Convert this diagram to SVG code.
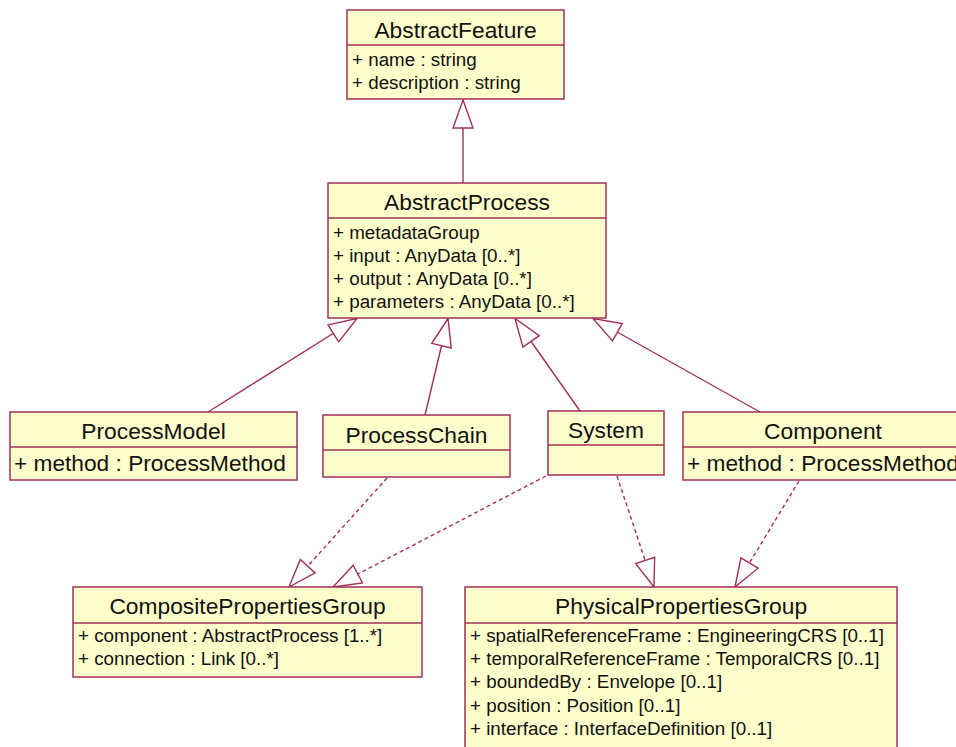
<svg xmlns="http://www.w3.org/2000/svg" width="956" height="747" viewBox="0 0 956 747">
<defs>
<style>
.box{fill:#FFFFCC;stroke:#A3305A;stroke-width:1.5}
.div{stroke:#A3305A;stroke-width:1.5}
.t{font-family:"Liberation Sans",Arial,sans-serif;font-size:22.8px;fill:#111;text-anchor:middle}
.a{font-family:"Liberation Sans",Arial,sans-serif;font-size:18.8px;fill:#111}
.ab{font-family:"Liberation Sans",Arial,sans-serif;font-size:22.7px;fill:#111}
.gen{stroke:#A3305A;stroke-width:1.4;fill:none;marker-end:url(#tri)}
.dep{stroke:#A3305A;stroke-width:1.4;fill:none;stroke-dasharray:4 3;marker-end:url(#tri)}
</style>
<marker id="tri" viewBox="-30 -12 32 24" refX="0" refY="0" markerWidth="32" markerHeight="24" markerUnits="userSpaceOnUse" orient="auto">
<path d="M0,0 L-28,-10 L-28,10 Z" fill="#FFFFFF" stroke="#A3305A" stroke-width="1.4"/>
</marker>
</defs>
<rect width="956" height="747" fill="#FFFFFF"/>
<g id="connectors">
<line class="gen" x1="463" y1="183" x2="463" y2="100"/>
<line class="gen" x1="208" y1="412" x2="357" y2="318.5"/>
<line class="gen" x1="425" y1="415" x2="448" y2="318.5"/>
<line class="gen" x1="580" y1="411" x2="515" y2="318.5"/>
<line class="gen" x1="760" y1="412" x2="593" y2="318.5"/>
<line class="dep" x1="387" y1="478" x2="289" y2="587"/>
<line class="dep" x1="546" y1="476" x2="333" y2="587"/>
<line class="dep" x1="617" y1="476" x2="654" y2="587"/>
<line class="dep" x1="799" y1="481" x2="735" y2="587"/>
</g>
<g id="AbstractFeature">
<rect class="box" x="347" y="10" width="217" height="89"/>
<line class="div" x1="347" y1="45" x2="564" y2="45"/>
<text class="t" x="455.5" y="38">AbstractFeature</text>
<text class="a" x="352" y="66">+ name : string</text>
<text class="a" x="352" y="89">+ description : string</text>
</g>
<g id="AbstractProcess">
<rect class="box" x="328" y="183" width="278" height="135"/>
<line class="div" x1="328" y1="218" x2="606" y2="218"/>
<text class="t" x="467" y="210">AbstractProcess</text>
<text class="a" x="333" y="239">+ metadataGroup</text>
<text class="a" x="333" y="262">+ input : AnyData [0..*]</text>
<text class="a" x="333" y="285">+ output : AnyData [0..*]</text>
<text class="a" x="333" y="308">+ parameters : AnyData [0..*]</text>
</g>
<g id="ProcessModel">
<rect class="box" x="10" y="412" width="287" height="68"/>
<line class="div" x1="10" y1="447" x2="297" y2="447"/>
<text class="t" x="153.5" y="439">ProcessModel</text>
<text class="ab" x="14" y="471">+ method : ProcessMethod</text>
</g>
<g id="ProcessChain">
<rect class="box" x="323" y="415" width="187" height="62"/>
<line class="div" x1="323" y1="450" x2="510" y2="450"/>
<text class="t" x="416.5" y="443">ProcessChain</text>
</g>
<g id="System">
<rect class="box" x="548" y="411" width="116" height="64"/>
<line class="div" x1="548" y1="445" x2="664" y2="445"/>
<text class="t" x="606" y="438">System</text>
</g>
<g id="Component">
<rect class="box" x="683" y="412" width="290" height="68"/>
<line class="div" x1="683" y1="447" x2="973" y2="447"/>
<text class="t" x="823" y="439">Component</text>
<text class="ab" x="687" y="471">+ method : ProcessMethod</text>
</g>
<g id="CompositePropertiesGroup">
<rect class="box" x="73" y="587" width="349" height="90"/>
<line class="div" x1="73" y1="623" x2="422" y2="623"/>
<text class="t" x="247.5" y="614">CompositePropertiesGroup</text>
<text class="a" x="78" y="642">+ component : AbstractProcess [1..*]</text>
<text class="a" x="78" y="665">+ connection : Link [0..*]</text>
</g>
<g id="PhysicalPropertiesGroup">
<rect class="box" x="465" y="587" width="432" height="175"/>
<line class="div" x1="465" y1="623" x2="897" y2="623"/>
<text class="t" x="681" y="614">PhysicalPropertiesGroup</text>
<text class="a" x="470" y="642">+ spatialReferenceFrame : EngineeringCRS [0..1]</text>
<text class="a" x="470" y="665">+ temporalReferenceFrame : TemporalCRS [0..1]</text>
<text class="a" x="470" y="688">+ boundedBy : Envelope [0..1]</text>
<text class="a" x="470" y="712">+ position : Position [0..1]</text>
<text class="a" x="470" y="735">+ interface : InterfaceDefinition [0..1]</text>
</g>
</svg>
